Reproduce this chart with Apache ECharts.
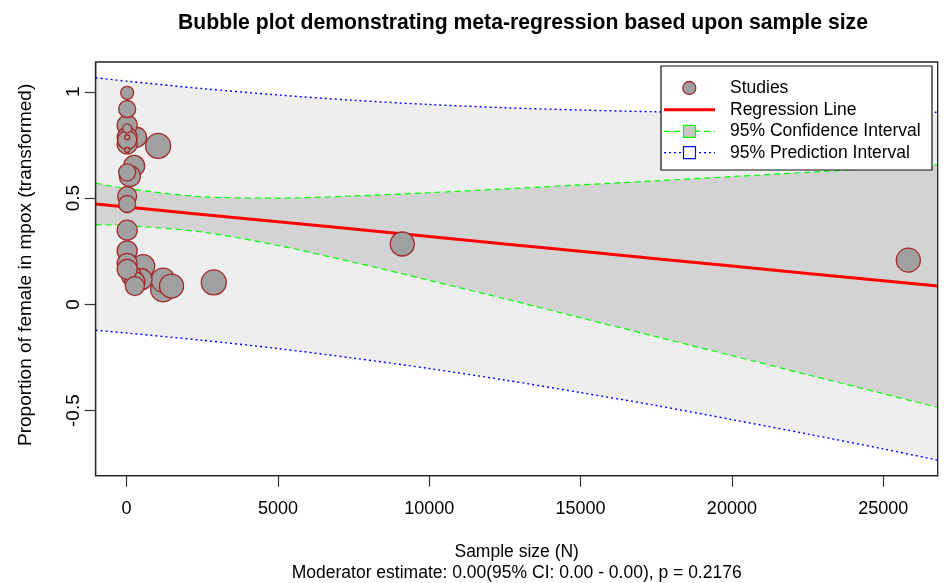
<!DOCTYPE html>
<html lang="en">
<head>
<meta charset="UTF-8" />
<script src="https://cdn.jsdelivr.net/npm/echarts@6/dist/echarts.min.js"></script>
<style>
html,body{margin:0;padding:0;background:#fff}
#main{width:944px;height:583px}
</style>
</head>
<body>
<div id="main"></div>
<script>
// studies: sample size, transformed proportion, bubble diameter
var studyN = [2881, 1043, 1208, 1208, 1485, 548, 9110, 25830, 330, 251, 109, 20, 20, 495, 20, 20, 20, 20, 165, 274, 20, 20, 274, 20, 20, 20, 20, 20, 20, 20, 20];
var studyP = [0.103, 0.745, 0.071, 0.114, 0.086, 0.180, 0.284, 0.208, 0.786, 0.651, 0.603, 0.843, 0.754, 0.118, 0.786, 0.349, 0.252, 0.193, 0.133, 0.106, 0.165, 0.509, 0.086, 0.773, 0.621, 0.472, 0.919, 0.995, 0.828, 0.786, 0.726];
var studySize = [25, 25, 25, 24, 24, 23, 24, 24, 20, 21, 21, 20, 20, 21, 20, 20, 20, 20, 20, 20, 20, 19, 19, 19, 17, 17, 17, 13, 9, 5, 5];

// fitted line, confidence and prediction bounds read along x
var fitX    = [-1020, 0, 2500, 5000, 7500, 10000, 12500, 15000, 17500, 20000, 22500, 25000, 26800];
var fitLine = [0.472, 0.458, 0.423, 0.388, 0.354, 0.319, 0.284, 0.250, 0.215, 0.180, 0.145, 0.111, 0.086];
var ciUpper = [0.570, 0.545, 0.506, 0.500, 0.510, 0.525, 0.543, 0.562, 0.581, 0.601, 0.621, 0.642, 0.656];
var ciLower = [0.374, 0.371, 0.340, 0.277, 0.198, 0.113, 0.026, -0.063, -0.152, -0.241, -0.331, -0.420, -0.485];
var piUpper = [1.066, 1.050, 1.015, 0.985, 0.960, 0.940, 0.925, 0.914, 0.906, 0.902, 0.900, 0.902, 0.904];
var piLower = [-0.122, -0.135, -0.169, -0.208, -0.253, -0.302, -0.356, -0.415, -0.476, -0.542, -0.610, -0.680, -0.733];

var xTicks = [0, 5000, 10000, 15000, 20000, 25000];
var yTicks = [-0.5, 0, 0.5, 1];

var FONT = 'Liberation Sans, Arial, Helvetica, sans-serif';
var G = {left: 95.7, top: 62, right: 6.3, bottom: 107.3};
var W = 944, H = 583;

function pairs(ys) {
	return fitX.map(function (x, i) { return [x, ys[i]]; });
}
function band(name, ys, fill) {
	return {
		name: name, type: 'line', data: pairs(ys), symbol: 'none', smooth: 0.3,
		silent: true, lineStyle: {opacity: 0},
		areaStyle: {color: fill, opacity: 1, origin: 'start'}
	};
}
function edge(name, ys, color, dash, width) {
	return {
		name: name, type: 'line', data: pairs(ys), symbol: 'none', smooth: 0.3,
		silent: true, lineStyle: {color: color, width: width, type: dash}
	};
}

var bubbles = studyN.map(function (n, i) {
	return {value: [n, studyP[i]], symbolSize: studySize[i]};
});

var legendX = 661, legendY = 66, legendW = 271, legendH = 104;
var rowY = [88, 109.7, 131.3, 152.7];
var legendItems = ['Studies', 'Regression Line', '95% Confidence Interval', '95% Prediction Interval'];

var graphics = [
	{type: 'rect', z: 100, shape: {x: G.left, y: G.top, width: W - G.left - G.right, height: H - G.top - G.bottom},
	 style: {fill: null, stroke: '#222', lineWidth: 1.3}},
	{type: 'rect', z: 100, shape: {x: legendX, y: legendY, width: legendW, height: legendH},
	 style: {fill: '#fff', stroke: '#111', lineWidth: 1.2}},
	{type: 'circle', z: 101, shape: {cx: 689.3, cy: rowY[0], r: 6.5},
	 style: {fill: '#a0a0a0', stroke: '#a52a2a', lineWidth: 1.3}},
	{type: 'line', z: 101, shape: {x1: 664, y1: rowY[1], x2: 715, y2: rowY[1]},
	 style: {stroke: '#ff0000', lineWidth: 3}},
	{type: 'line', z: 101, shape: {x1: 664, y1: rowY[2], x2: 715, y2: rowY[2]},
	 style: {stroke: '#00ff00', lineWidth: 1.2, lineDash: [6, 4]}},
	{type: 'rect', z: 102, shape: {x: 683.5, y: rowY[2] - 6, width: 12, height: 12},
	 style: {fill: '#c8c8c8', stroke: '#00ff00', lineWidth: 1.2}},
	{type: 'line', z: 101, shape: {x1: 664, y1: rowY[3], x2: 715, y2: rowY[3]},
	 style: {stroke: '#0000ff', lineWidth: 1.2, lineDash: [2, 3]}},
	{type: 'rect', z: 102, shape: {x: 683.5, y: rowY[3] - 6, width: 12, height: 12},
	 style: {fill: '#fff', stroke: '#0000ff', lineWidth: 1.2}}
];
legendItems.forEach(function (t, i) {
	graphics.push({type: 'text', z: 102, x: 730, y: rowY[i],
		style: {text: t, font: '17.5px ' + FONT, fill: '#000', textVerticalAlign: 'middle'}});
});

var chart = echarts.init(document.getElementById('main'), null, {renderer: 'canvas'});
chart.setOption({
	animation: false,
	backgroundColor: '#fff',
	title: {
		text: 'Bubble plot demonstrating meta-regression based upon sample size',
		left: 518, top: 8, textAlign: 'center',
		textStyle: {fontFamily: FONT, fontSize: 21.2, fontWeight: 'bold', color: '#000'}
	},
	grid: {left: G.left, top: G.top, right: G.right, bottom: G.bottom, show: false,
		containLabel: false, outerBoundsMode: 'none'},
	xAxis: {
		type: 'value', min: -1020, max: 26800,
		axisLine: {show: true, onZero: false, lineStyle: {color: '#222', width: 1.3}},
		axisTick: {show: true, length: 11, customValues: xTicks, lineStyle: {color: '#333', width: 1.2}},
		axisLabel: {customValues: xTicks, margin: 24, fontSize: 18, fontFamily: FONT, color: '#000',
			formatter: function (v) { return String(v); }},
		splitLine: {show: false},
		name: 'Sample size (N)\nModerator estimate: 0.00(95% CI: 0.00 - 0.00), p = 0.2176',
		nameLocation: 'middle', nameGap: 66,
		nameTextStyle: {fontSize: 17.5, lineHeight: 21, fontFamily: FONT, color: '#000'}
	},
	yAxis: {
		type: 'value', min: -0.806, max: 1.14,
		axisLine: {show: true, onZero: false, lineStyle: {color: '#222', width: 1.3}},
		axisTick: {show: true, length: 11, customValues: yTicks, lineStyle: {color: '#333', width: 1.2}},
		axisLabel: {customValues: yTicks, rotate: 90, margin: 12, fontSize: 19, fontFamily: FONT, color: '#000',
			formatter: function (v) { return String(v); }},
		splitLine: {show: false},
		name: 'Proportion of female in mpox (transformed)',
		nameLocation: 'middle', nameGap: 60,
		nameTextStyle: {fontSize: 19, fontFamily: FONT, color: '#000', padding: [0, 0, 0, 8]}
	},
	graphic: graphics,
	series: [
		band('piFill', piUpper, '#eeeeee'),
		band('ciFill', ciUpper, '#d3d3d3'),
		band('ciCut', ciLower, '#eeeeee'),
		band('piCut', piLower, '#ffffff'),
		edge('ciUp', ciUpper, '#00ff00', [6, 4], 1.2),
		edge('ciLow', ciLower, '#00ff00', [6, 4], 1.2),
		edge('piUp', piUpper, '#0000ff', [2, 3], 1.4),
		edge('piLow', piLower, '#0000ff', [2, 3], 1.4),
		{name: 'Regression Line', type: 'line', data: pairs(fitLine), symbol: 'none', silent: true,
		 lineStyle: {color: '#ff0000', width: 3}},
		{name: 'Studies', type: 'scatter', data: bubbles, z: 5, symbol: 'circle',
		 itemStyle: {color: '#a0a0a0', borderColor: '#a52a2a', borderWidth: 1.3, opacity: 1}}
	]
});
</script>
</body>
</html>
